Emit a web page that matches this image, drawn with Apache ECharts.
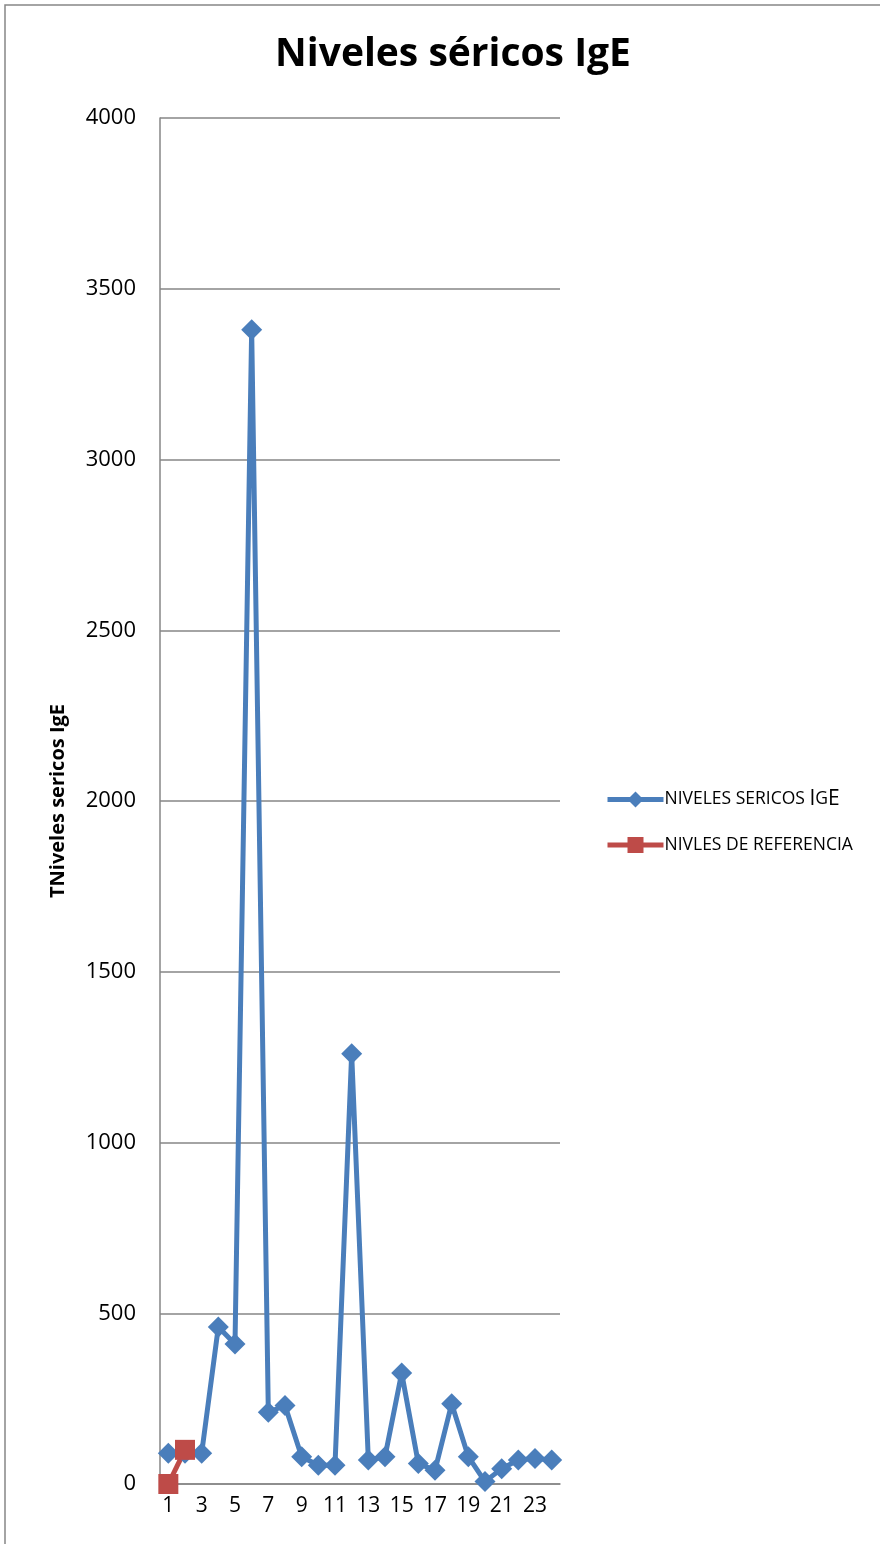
<!DOCTYPE html>
<html>
<head>
<meta charset="utf-8">
<script src="https://cdn.jsdelivr.net/npm/echarts@6/dist/echarts.min.js"></script>
<style>
html,body{margin:0;padding:0;background:#fff;}
#chart{width:880px;height:1544px;}
</style>
</head>
<body>
<div id="chart"></div>
<script>
var categories = ['1','2','3','4','5','6','7','8','9','10','11','12','13','14','15','16','17','18','19','20','21','22','23','24'];
var nivelesSericos = [90, 90, 90, 460, 410, 3380, 210, 230, 80, 55, 55, 1260, 70, 80, 325, 60, 40, 235, 80, 7, 45, 70, 75, 70];
var nivelesReferencia = [0, 100];
var yTicks = { min: 0, max: 4000, interval: 500 };

var chart = echarts.init(document.getElementById('chart'));
var font = "'Open Sans', 'Noto Sans', sans-serif";
chart.setOption({
  animation: false,
  backgroundColor: '#fff',
  title: {
    text: 'Niveles séricos IgE',
    left: 448, top: 30, textAlign: 'center',
    textStyle: { fontFamily: font, fontWeight: 'bold', fontSize: 39, color: '#000' }
  },
  graphic: [{
    type: 'rect', shape: { x: 5, y: 5, width: 900, height: 1600 },
    style: { fill: 'none', stroke: '#868686', lineWidth: 1.5 }, silent: true
  }],
  legend: {
    orient: 'vertical', left: 600, top: 784, itemGap: 26,
    itemWidth: 56, itemHeight: 20,
    lineStyle: { width: 5 },
    data: ['NIVELES SERICOS IgE', 'NIVLES DE REFERENCIA'],
    formatter: function (n) {
      if (n === 'NIVELES SERICOS IgE') return '{s|NIVELES SERICOS }{b|I}{s|G}{b|E}';
      return '{s|NIVLES DE REFERENCIA}';
    },
    textStyle: {
      fontFamily: font, color: '#000', padding: [0, 0, 0, -4],
      rich: { s: { fontFamily: font, fontSize: 17.5, color: '#000' }, b: { fontFamily: font, fontSize: 21, color: '#000' } }
    }
  },
  grid: { left: 160, right: 320, top: 118, bottom: 60 },
  xAxis: {
    type: 'category', data: categories, boundaryGap: true,
    axisLine: { lineStyle: { color: '#868686', width: 1.5 } },
    axisTick: { show: false },
    axisLabel: { interval: 1, fontFamily: font, fontSize: 21, color: '#000', margin: 12 }
  },
  yAxis: {
    type: 'value', min: yTicks.min, max: yTicks.max, interval: yTicks.interval,
    name: 'TNiveles sericos IgE', nameLocation: 'middle', nameGap: 92,
    nameTextStyle: { fontFamily: font, fontWeight: 'bold', fontSize: 20, color: '#000' },
    axisLine: { show: true, lineStyle: { color: '#868686', width: 1.5 } },
    axisTick: { show: false },
    splitLine: { lineStyle: { color: '#868686', width: 1.5 } },
    axisLabel: { fontFamily: font, fontSize: 22, color: '#000', margin: 24, formatter: function (v) { return String(v); } }
  },
  series: [
    {
      name: 'NIVELES SERICOS IgE', type: 'line', data: nivelesSericos,
      symbol: 'diamond', symbolSize: 21, showAllSymbol: true,
      lineStyle: { color: '#4A7EBB', width: 5 },
      itemStyle: { color: '#4A7EBB' }
    },
    {
      name: 'NIVLES DE REFERENCIA', type: 'line', data: nivelesReferencia,
      symbol: 'rect', symbolSize: 20, showAllSymbol: true,
      lineStyle: { color: '#BE4B48', width: 5 },
      itemStyle: { color: '#BE4B48' }
    }
  ]
});
</script>
</body>
</html>
